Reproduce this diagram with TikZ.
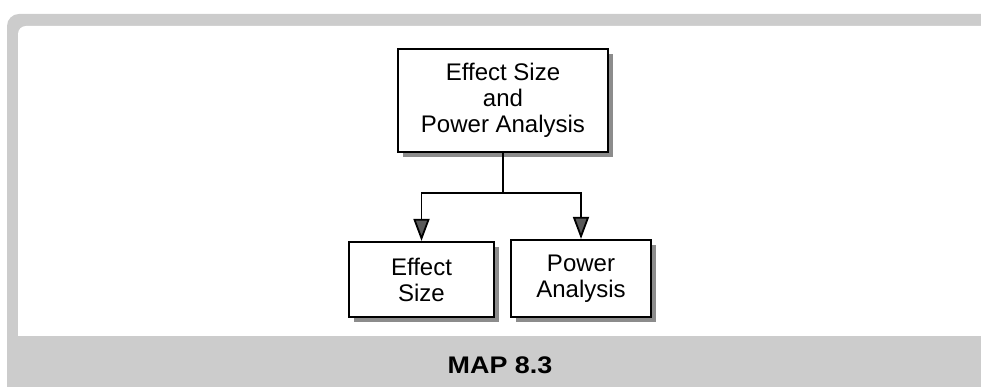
\documentclass[tikz,border=0pt]{standalone}
\usepackage{fontspec}
\setmainfont{Liberation Sans}
\usetikzlibrary{arrows.meta,shadows}
\definecolor{framegray}{gray}{0.8}
\definecolor{shadowgray}{gray}{0.55}
\newcommand{\mapfont}{\fontsize{24}{26}\selectfont}

\begin{document}
\begin{tikzpicture}[x=1pt, y=1pt,
    every node/.style = {font=\mapfont},
    mapbox/.style = {shape=rectangle, draw, line width=2.2pt, fill=white, align=center,
      drop shadow={shadow xshift=5pt, shadow yshift=-5pt, fill=shadowgray, opacity=1}},
    link/.style = {draw, line width=1.8pt, -{Triangle[width=16pt, length=22pt, fill=black!65]}}]
  \useasboundingbox (0,0) rectangle (981,387);
  % frame
  \fill[framegray] (981,0) -- (7,0) -- (7,361) arc (180:90:12) -- (981,373) -- cycle;
  \fill[white] (981,51) -- (18,51) -- (18,353) arc (180:90:8) -- (981,361) -- cycle;
  \node (caption) at (500,22) [font=\fontsize{24}{28}\selectfont\bfseries, xscale=1.12, transform shape] {MAP 8.3};
  % boxes
  \node[mapbox, minimum width=210pt, minimum height=103pt] (topic) at (503,286.5)
    {Effect Size\\and\\Power Analysis};
  \node[mapbox, minimum width=145pt, minimum height=75pt] (esize) at (421.5,107.5)
    {Effect\\Size};
  \node[mapbox, minimum width=140pt, minimum height=77pt] (power) at (581,108.5)
    {Power\\Analysis};
  % connectors
  \coordinate (split) at ([yshift=-40pt]topic.south);
  \draw[link] (topic.south) -- (split) -| (esize.north);
  \draw[link] (split) -| (power.north);
\end{tikzpicture}
\end{document}
